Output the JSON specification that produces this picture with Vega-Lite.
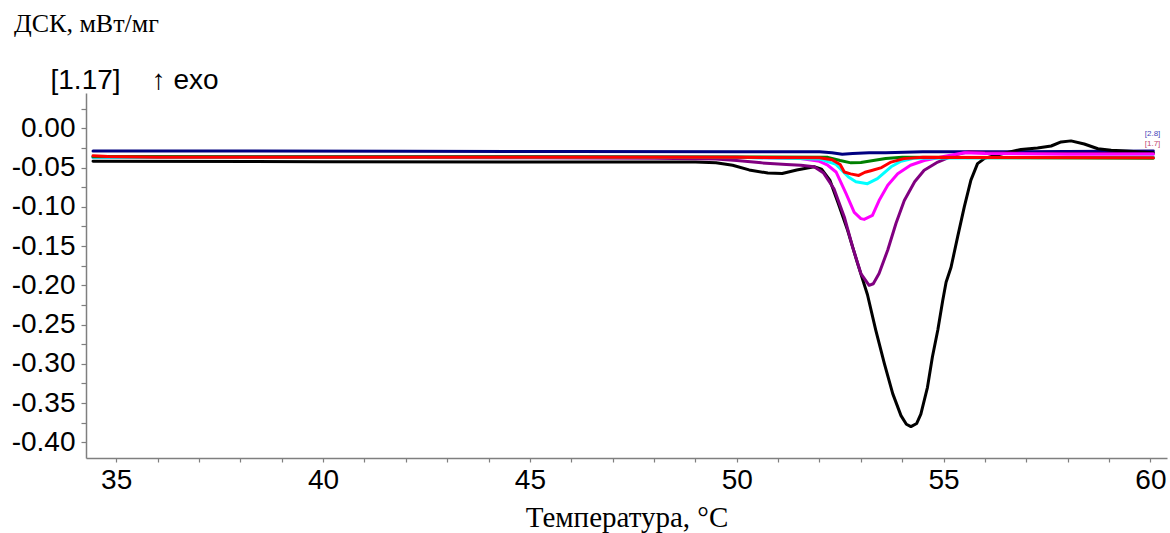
{
  "$schema": "https://vega.github.io/schema/vega-lite/v6.json",
  "width": 1081,
  "height": 365,
  "autosize": {"type": "none"},
  "padding": {"left": 86, "top": 93, "right": 3, "bottom": 75},
  "background": "white",
  "config": {
    "view": {"stroke": null},
    "axis": {"grid": false, "domainColor": "#7f7f7f", "tickColor": "#7f7f7f", "domainWidth": 1.5, "tickWidth": 1.2, "labelColor": "#000000", "labelFont": "Liberation Sans", "labelFontSize": 28, "titleColor": "#000000"},
    "title": {"font": "Liberation Serif", "fontSize": 26, "fontWeight": "normal", "color": "#000000"}
  },
  "title": {"text": "ДСК, мВт/мг", "anchor": "start", "frame": "group", "dx": -72, "dy": -25},
  "datasets": {
    "curves": [
      {"s": "navy", "T": 34.44, "v": -0.029}, {"s": "navy", "T": 38, "v": -0.029}, {"s": "navy", "T": 42, "v": -0.0292}, {"s": "navy", "T": 46, "v": -0.0295}, {"s": "navy", "T": 50, "v": -0.030}, {"s": "navy", "T": 52.0, "v": -0.030}, {"s": "navy", "T": 52.3, "v": -0.031}, {"s": "navy", "T": 52.55, "v": -0.033}, {"s": "navy", "T": 52.8, "v": -0.032}, {"s": "navy", "T": 53.2, "v": -0.031}, {"s": "navy", "T": 53.6, "v": -0.031}, {"s": "navy", "T": 54.5, "v": -0.030}, {"s": "navy", "T": 56, "v": -0.030}, {"s": "navy", "T": 58, "v": -0.0295}, {"s": "navy", "T": 60.07, "v": -0.029, "tag": "[2.8]"},

      {"s": "black", "T": 34.44, "v": -0.042}, {"s": "black", "T": 40, "v": -0.0425}, {"s": "black", "T": 45, "v": -0.043}, {"s": "black", "T": 49.0, "v": -0.043}, {"s": "black", "T": 49.5, "v": -0.044}, {"s": "black", "T": 49.9, "v": -0.047}, {"s": "black", "T": 50.3, "v": -0.053}, {"s": "black", "T": 50.75, "v": -0.057}, {"s": "black", "T": 51.1, "v": -0.0575}, {"s": "black", "T": 51.45, "v": -0.053}, {"s": "black", "T": 51.87, "v": -0.049}, {"s": "black", "T": 52.05, "v": -0.052}, {"s": "black", "T": 52.25, "v": -0.066}, {"s": "black", "T": 52.45, "v": -0.095}, {"s": "black", "T": 52.68, "v": -0.130}, {"s": "black", "T": 52.92, "v": -0.172}, {"s": "black", "T": 53.16, "v": -0.212}, {"s": "black", "T": 53.36, "v": -0.257}, {"s": "black", "T": 53.57, "v": -0.300}, {"s": "black", "T": 53.77, "v": -0.338}, {"s": "black", "T": 53.97, "v": -0.366}, {"s": "black", "T": 54.1, "v": -0.377}, {"s": "black", "T": 54.21, "v": -0.380}, {"s": "black", "T": 54.35, "v": -0.376}, {"s": "black", "T": 54.45, "v": -0.364}, {"s": "black", "T": 54.61, "v": -0.330}, {"s": "black", "T": 54.73, "v": -0.291}, {"s": "black", "T": 54.86, "v": -0.257}, {"s": "black", "T": 54.98, "v": -0.219}, {"s": "black", "T": 55.06, "v": -0.196}, {"s": "black", "T": 55.18, "v": -0.177}, {"s": "black", "T": 55.34, "v": -0.138}, {"s": "black", "T": 55.5, "v": -0.100}, {"s": "black", "T": 55.66, "v": -0.066}, {"s": "black", "T": 55.82, "v": -0.045}, {"s": "black", "T": 56.0, "v": -0.038}, {"s": "black", "T": 56.3, "v": -0.034}, {"s": "black", "T": 56.6, "v": -0.030}, {"s": "black", "T": 56.87, "v": -0.027}, {"s": "black", "T": 57.27, "v": -0.025}, {"s": "black", "T": 57.6, "v": -0.0225}, {"s": "black", "T": 57.84, "v": -0.0174}, {"s": "black", "T": 58.08, "v": -0.016}, {"s": "black", "T": 58.4, "v": -0.020}, {"s": "black", "T": 58.73, "v": -0.026}, {"s": "black", "T": 59.05, "v": -0.028}, {"s": "black", "T": 59.4, "v": -0.029}, {"s": "black", "T": 60.07, "v": -0.031},

      {"s": "purple", "T": 34.44, "v": -0.037}, {"s": "purple", "T": 40, "v": -0.037}, {"s": "purple", "T": 45, "v": -0.0375}, {"s": "purple", "T": 48, "v": -0.038}, {"s": "purple", "T": 49.5, "v": -0.039}, {"s": "purple", "T": 50.0, "v": -0.041}, {"s": "purple", "T": 50.6, "v": -0.044}, {"s": "purple", "T": 51.2, "v": -0.046}, {"s": "purple", "T": 51.55, "v": -0.047}, {"s": "purple", "T": 51.87, "v": -0.049}, {"s": "purple", "T": 52.1, "v": -0.057}, {"s": "purple", "T": 52.35, "v": -0.077}, {"s": "purple", "T": 52.6, "v": -0.113}, {"s": "purple", "T": 52.8, "v": -0.151}, {"s": "purple", "T": 53.0, "v": -0.185}, {"s": "purple", "T": 53.2, "v": -0.200}, {"s": "purple", "T": 53.3, "v": -0.198}, {"s": "purple", "T": 53.44, "v": -0.185}, {"s": "purple", "T": 53.65, "v": -0.155}, {"s": "purple", "T": 53.85, "v": -0.121}, {"s": "purple", "T": 54.05, "v": -0.092}, {"s": "purple", "T": 54.3, "v": -0.068}, {"s": "purple", "T": 54.53, "v": -0.0535}, {"s": "purple", "T": 54.86, "v": -0.043}, {"s": "purple", "T": 55.26, "v": -0.034}, {"s": "purple", "T": 55.6, "v": -0.030}, {"s": "purple", "T": 56.0, "v": -0.031}, {"s": "purple", "T": 57, "v": -0.032}, {"s": "purple", "T": 58, "v": -0.032}, {"s": "purple", "T": 60.07, "v": -0.032},

      {"s": "magenta", "T": 34.44, "v": -0.036}, {"s": "magenta", "T": 45, "v": -0.036}, {"s": "magenta", "T": 50, "v": -0.037}, {"s": "magenta", "T": 51.5, "v": -0.038}, {"s": "magenta", "T": 52.0, "v": -0.042}, {"s": "magenta", "T": 52.2, "v": -0.047}, {"s": "magenta", "T": 52.4, "v": -0.0556}, {"s": "magenta", "T": 52.64, "v": -0.083}, {"s": "magenta", "T": 52.84, "v": -0.107}, {"s": "magenta", "T": 53.0, "v": -0.115}, {"s": "magenta", "T": 53.08, "v": -0.116}, {"s": "magenta", "T": 53.28, "v": -0.111}, {"s": "magenta", "T": 53.44, "v": -0.092}, {"s": "magenta", "T": 53.65, "v": -0.0726}, {"s": "magenta", "T": 53.89, "v": -0.058}, {"s": "magenta", "T": 54.2, "v": -0.047}, {"s": "magenta", "T": 54.53, "v": -0.041}, {"s": "magenta", "T": 55.0, "v": -0.036}, {"s": "magenta", "T": 55.5, "v": -0.031}, {"s": "magenta", "T": 56, "v": -0.032}, {"s": "magenta", "T": 58, "v": -0.033}, {"s": "magenta", "T": 60.07, "v": -0.033},

      {"s": "cyan", "T": 34.44, "v": -0.037}, {"s": "cyan", "T": 50, "v": -0.037}, {"s": "cyan", "T": 52.0, "v": -0.039}, {"s": "cyan", "T": 52.4, "v": -0.046}, {"s": "cyan", "T": 52.7, "v": -0.062}, {"s": "cyan", "T": 52.88, "v": -0.068}, {"s": "cyan", "T": 53.16, "v": -0.0705}, {"s": "cyan", "T": 53.4, "v": -0.064}, {"s": "cyan", "T": 53.73, "v": -0.049}, {"s": "cyan", "T": 53.97, "v": -0.042}, {"s": "cyan", "T": 54.3, "v": -0.038}, {"s": "cyan", "T": 60.07, "v": -0.037},

      {"s": "green", "T": 34.44, "v": -0.036}, {"s": "green", "T": 50, "v": -0.0365}, {"s": "green", "T": 52.2, "v": -0.037}, {"s": "green", "T": 52.5, "v": -0.041}, {"s": "green", "T": 52.76, "v": -0.044}, {"s": "green", "T": 53.0, "v": -0.0435}, {"s": "green", "T": 53.3, "v": -0.041}, {"s": "green", "T": 53.6, "v": -0.0385}, {"s": "green", "T": 54, "v": -0.037}, {"s": "green", "T": 60.07, "v": -0.038},

      {"s": "red", "T": 34.44, "v": -0.035}, {"s": "red", "T": 34.8, "v": -0.036}, {"s": "red", "T": 36, "v": -0.037}, {"s": "red", "T": 45, "v": -0.037}, {"s": "red", "T": 50, "v": -0.037}, {"s": "red", "T": 52.0, "v": -0.0375}, {"s": "red", "T": 52.3, "v": -0.040}, {"s": "red", "T": 52.5, "v": -0.046}, {"s": "red", "T": 52.6, "v": -0.0556}, {"s": "red", "T": 52.75, "v": -0.058}, {"s": "red", "T": 52.95, "v": -0.060}, {"s": "red", "T": 53.1, "v": -0.056}, {"s": "red", "T": 53.24, "v": -0.054}, {"s": "red", "T": 53.5, "v": -0.050}, {"s": "red", "T": 53.73, "v": -0.043}, {"s": "red", "T": 54.04, "v": -0.0386}, {"s": "red", "T": 54.5, "v": -0.037}, {"s": "red", "T": 60.07, "v": -0.0375, "tag": "[1.7]"}
    ]
  },
  "data": {"name": "curves"},
  "encoding": {
    "x": {
      "field": "T", "type": "quantitative",
      "scale": {"domain": [34.27, 60.4], "nice": false, "zero": false},
      "axis": {
        "title": "Температура, °C",
        "titleFont": "Liberation Serif", "titleFontSize": 29, "titleFontWeight": "normal",
        "values": [35,36,37,38,39,40,41,42,43,44,45,46,47,48,49,50,51,52,53,54,55,56,57,58,59,60],
        "labelExpr": "datum.value % 5 === 0 ? datum.label : ''",
        "tickSize": 4, "labelPadding": 4, "titlePadding": 9, "labelFlush": false
      }
    },
    "y": {
      "field": "v", "type": "quantitative",
      "scale": {"domain": [-0.42, 0.045], "nice": false, "zero": false},
      "axis": {
        "title": "[1.17]\u00a0\u00a0\u00a0\u00a0↑ exo",
        "titleFont": "Liberation Sans", "titleFontSize": 28, "titleFontWeight": "normal",
        "titleAngle": 0, "titleAlign": "left", "titleBaseline": "middle", "titleX": -36, "titleY": -13,
        "values": [-0.4,-0.375,-0.35,-0.325,-0.3,-0.275,-0.25,-0.225,-0.2,-0.175,-0.15,-0.125,-0.1,-0.075,-0.05,-0.025,0,0.025],
        "labelExpr": "abs(datum.value*20 - round(datum.value*20)) < 0.01 ? replace(format(datum.value, '.2f'), '\u2212', '-') : ''",
        "tickSize": 5, "labelPadding": 6, "labelFlush": false
      }
    }
  },
  "layer": [
    {
      "mark": {"type": "line", "strokeWidth": 3, "strokeJoin": "round", "strokeCap": "round", "clip": false},
      "encoding": {
        "color": {
          "field": "s", "type": "nominal", "legend": null,
          "scale": {"domain": ["black", "purple", "magenta", "cyan", "green", "red", "navy"], "range": ["#000000", "#800080", "#ff00ff", "#00ffff", "#008000", "#ff0000", "#000080"]}
        },
        "order": {"field": "T"}
      }
    },
    {
      "transform": [{"filter": "datum.tag === '[2.8]'"}],
      "mark": {"type": "text", "fontSize": 8, "font": "Liberation Sans", "align": "right", "dx": 7, "dy": -17, "color": "#4848b8"},
      "encoding": {"text": {"field": "tag"}}
    },
    {
      "transform": [{"filter": "datum.tag === '[1.7]'"}],
      "mark": {"type": "text", "fontSize": 8, "font": "Liberation Sans", "align": "right", "dx": 7, "dy": -14, "color": "#c04870"},
      "encoding": {"text": {"field": "tag"}}
    }
  ]
}
